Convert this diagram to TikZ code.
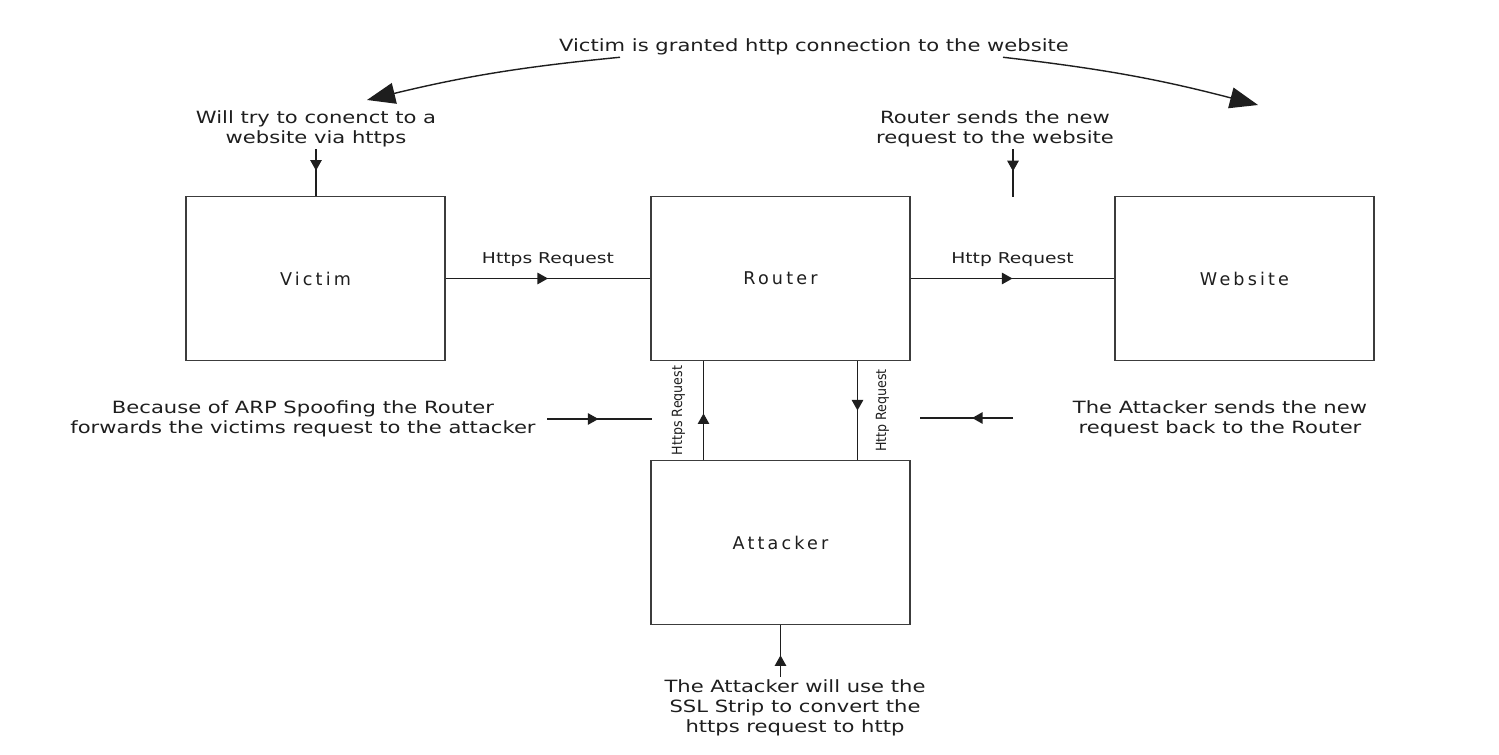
\documentclass[tikz,border=0pt]{standalone}
\usepackage{xcolor}
\usepackage{fontspec}
\setmainfont{DejaVu Sans}
\newfontfamily\boxfont{DejaVu Sans}[LetterSpace=18]
\newfontfamily\notefont{DejaVu Sans}[FakeStretch=1.25]
\newfontfamily\condfont{DejaVu Sans Condensed}
\usepackage{tikz}
\usetikzlibrary{
  arrows.meta, positioning, calc, decorations.markings
}
\definecolor{ssEdge}{HTML}{3C3C3C}
\definecolor{ssInk}{HTML}{1E1E1E}
\tikzset{
  hostbox/.style={draw=ssEdge, line width=1.1pt, minimum width=5.18cm,
    minimum height=3.28cm, inner sep=0pt, text=ssInk,
    font=\boxfont\fontsize{10}{12}\selectfont},
  note/.style={align=center, text=ssInk, inner sep=1pt,
    font=\notefont\fontsize{9.6}{11.5}\selectfont},
  reqlabel/.style={text=ssInk, inner sep=1pt, font=\notefont\fontsize{8.5}{10}\selectfont},
  sidelabel/.style={text=ssInk, inner sep=1pt, rotate=90,
    font=\condfont\fontsize{8}{9}\selectfont},
  link/.style={draw=ssInk, line width=0.8pt},
  midarrow/.style={link, postaction={decorate}, decoration={markings,
    mark=at position #1 with {\arrow{Triangle[length=6pt, width=6.5pt]}}}},
  midarrow/.default=0.5,
  bigarrow/.style={link, -{Triangle[length=16pt, width=12pt]}}
}

\begin{document}
\begin{tikzpicture}
  \useasboundingbox (0,0) rectangle (29.98,15.1);

  \node[hostbox] (victim) at (6.31,9.53) {Victim};
  \node[hostbox] (router) at (15.61,9.53) {Router};
  \node[hostbox] (website) at (24.89,9.53) {Website};
  \node[hostbox] (attacker) at (15.61,4.25) {Attacker};

  \node[note] (grant) at (16.28,14.16) {Victim is granted http connection to the website};
  \node[note] (try) at (6.32,12.52) {Will try to conenct to a\\website via https};
  \node[note] (sends) at (19.9,12.52) {Router sends the new\\request to the website};
  \node[note] (arp) at (6.06,6.72) {Because of ARP Spoofing the Router\\forwards the victims request to the attacker};
  \node[note] (back) at (24.4,6.72) {The Attacker sends the new\\request back to the Router};
  \node[note] (ssl) at (15.9,0.94) {The Attacker will use the\\SSL Strip to convert the\\https request to http};

  \coordinate (sendsEnd) at (20.26,11.16);
  \coordinate (arpFrom) at (10.94,6.72);
  \coordinate (arpTo) at (13.04,6.72);
  \coordinate (backFrom) at (20.26,6.74);
  \coordinate (backTo) at (18.4,6.74);
  \coordinate (sslFrom) at (15.61,1.56);
  \coordinate (grantL) at (7.34,13.1);
  \coordinate (grantR) at (25.16,13.0);

  \draw[midarrow] (victim) -- (router)
    node[midway, above=0.18cm, reqlabel] {Https Request};
  \draw[midarrow] (router) -- (website)
    node[midway, above=0.18cm, reqlabel] {Http Request};

  \draw[midarrow=0.47] ([xshift=-1.54cm]attacker.north) -- ([xshift=-1.54cm]router.south)
    node[midway, xshift=-0.5cm, sidelabel] {Https Request};
  \draw[midarrow] ([xshift=1.54cm]router.south) -- ([xshift=1.54cm]attacker.north)
    node[midway, xshift=0.5cm, sidelabel] {Http Request};

  \draw[midarrow=0.46] (try.south) -- (try.south |- victim.north);
  \draw[midarrow=0.46] (sends.south -| sendsEnd) -- (sendsEnd);
  \draw[midarrow=0.49] (arpFrom) -- (arpTo);
  \draw[midarrow=0.44] (backFrom) -- (backTo);
  \draw[midarrow=0.42] (sslFrom) -- (attacker);

  \draw[bigarrow] ($(grant.south)+(-3.88,0)$) to[bend right=4] (grantL);
  \draw[bigarrow] ($(grant.south)+(3.78,0)$) to[bend left=4] (grantR);
\end{tikzpicture}
\end{document}
